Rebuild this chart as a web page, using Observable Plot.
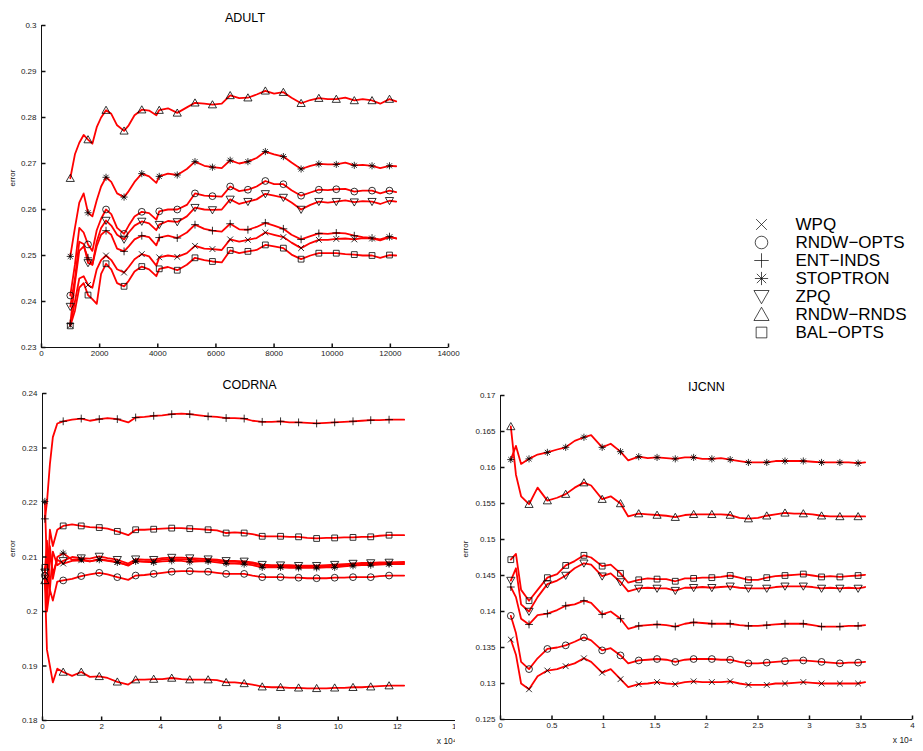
<!DOCTYPE html>
<html><head><meta charset="utf-8">
<script src="https://cdn.jsdelivr.net/npm/d3@7"></script>
<script src="https://cdn.jsdelivr.net/npm/@observablehq/plot@0.6"></script>
<style>
body{margin:0;background:#fff;}
#root{position:relative;width:923px;height:751px;overflow:hidden;background:#fff;}
#root svg{position:absolute;}
</style></head><body><div id="root"></div>
<script>
// ---------- series names / legend ----------
const seriesNames = ["WPQ","RNDW-OPTS","ENT-INDS","STOPTRON","ZPQ","RNDW-RNDS","BAL-OPTS"];
const legendLabels = ["WPQ","RNDW\u2212OPTS","ENT\u2212INDS","STOPTRON","ZPQ","RNDW\u2212RNDS","BAL\u2212OPTS"];

// ---------- ADULT ----------
const adultX = [990,1150,1300,1450,1600,1750,1900,2050,2220,2400,2600,2840,3000,3200,3450,3700,3950,4050,4350,4670,5000,5280,5600,5880,6200,6490,6800,7100,7400,7700,8000,8320,8600,8930,9250,9540,9850,10140,10450,10760,11050,11370,11650,11970,12200];
const adultMarkX = [990,1600,2220,2840,3450,4050,4670,5280,5880,6490,7100,7700,8320,8930,9540,10140,10760,11370,11970];
const adultWPQ = [.2348,.2400,.2450,.2455,.2436,.2430,.2470,.2490,.2500,.2490,.2470,.2463,.2475,.2492,.2503,.2498,.2478,.2496,.2500,.2497,.2505,.2521,.2515,.2514,.2512,.2535,.2530,.2534,.2538,.2550,.2545,.2540,.2528,.2516,.2527,.2534,.2534,.2536,.2537,.2535,.2538,.2537,.2533,.2540,.2537];
const adultRNDWOPTS = [.2413,.2480,.2560,.2550,.2524,.2510,.2555,.2580,.2600,.2590,.2560,.2547,.2565,.2585,.2595,.2592,.2578,.2596,.2600,.2600,.2610,.2635,.2630,.2629,.2628,.2650,.2640,.2643,.2650,.2662,.2655,.2655,.2642,.2630,.2637,.2643,.2642,.2644,.2645,.2639,.2641,.2641,.2635,.2641,.2638];
const adultENTINDS = [.2352,.2440,.2510,.2520,.2495,.2480,.2520,.2545,.2554,.2545,.2515,.2509,.2520,.2535,.2543,.2540,.2522,.2539,.2543,.2538,.2550,.2567,.2558,.2554,.2552,.2569,.2557,.2556,.2562,.2571,.2565,.2558,.2545,.2535,.2542,.2548,.2547,.2549,.2548,.2543,.2540,.2538,.2535,.2541,.2537];
const adultSTOPTRON = [.2498,.2560,.2615,.2635,.2593,.2585,.2620,.2650,.2670,.2660,.2635,.2627,.2640,.2660,.2678,.2672,.2658,.2672,.2678,.2675,.2688,.2704,.2695,.2692,.2690,.2707,.2700,.2704,.2712,.2726,.2720,.2715,.2702,.2688,.2695,.2699,.2698,.2698,.2702,.2696,.2697,.2695,.2690,.2695,.2694];
const adultZPQ = [.2389,.2450,.2530,.2525,.2484,.2480,.2530,.2560,.2576,.2565,.2545,.2535,.2550,.2565,.2574,.2570,.2555,.2567,.2575,.2573,.2585,.2604,.2600,.2599,.2600,.2622,.2612,.2617,.2622,.2634,.2630,.2626,.2615,.2600,.2610,.2617,.2615,.2617,.2620,.2616,.2618,.2617,.2612,.2619,.2617];
const adultRNDWRNDS = [.2668,.2720,.2745,.2762,.2752,.2743,.2779,.2800,.2816,.2808,.2783,.2771,.2783,.2805,.2817,.2815,.2805,.2816,.2820,.2810,.2822,.2832,.2830,.2828,.2830,.2848,.2842,.2843,.2850,.2858,.2852,.2855,.2843,.2831,.2838,.2842,.2840,.2840,.2843,.2837,.2840,.2837,.2830,.2840,.2835];
const adultBALOPTS = [.2347,.2380,.2430,.2440,.2414,.2405,.2395,.2460,.2482,.2470,.2440,.2433,.2445,.2465,.2476,.2470,.2455,.2471,.2475,.2468,.2480,.2495,.2490,.2487,.2485,.2511,.2505,.2509,.2512,.2523,.2520,.2516,.2502,.2492,.2500,.2505,.2505,.2505,.2503,.2502,.2500,.2500,.2495,.2501,.2500];
const adultXTicks = [0,2000,4000,6000,8000,10000,12000,14000];
const adultYTicks = [0.23,0.24,0.25,0.26,0.27,0.28,0.29,0.3];

// ---------- CODRNA (x in units of 10^4) ----------
const codX = [0.08,0.15,0.25,0.35,0.5,0.7,1.0,1.31,1.6,1.92,2.2,2.53,2.9,3.15,3.45,3.76,4.05,4.37,4.7,4.98,5.3,5.6,5.9,6.21,6.5,6.82,7.1,7.43,7.75,8.05,8.35,8.66,8.95,9.27,9.6,9.88,10.2,10.5,10.8,11.1,11.4,11.72,12.23];
const codMarkX = [0.08,0.7,1.31,1.92,2.53,3.15,3.76,4.37,4.98,5.6,6.21,6.82,7.43,8.05,8.66,9.27,9.88,10.5,11.1,11.72];
const codWPQ = [.2063,.2010,.2110,.2070,.2095,.2088,.2093,.2094,.2092,.2096,.2094,.2091,.2084,.2093,.2092,.2092,.2095,.2096,.2096,.2095,.2094,.2094,.2093,.2091,.2091,.2090,.2088,.2084,.2083,.2083,.2083,.2082,.2082,.2082,.2083,.2084,.2085,.2086,.2087,.2087,.2088,.2088,.2089];
const codRNDWOPTS = [.2066,.2000,.2040,.2020,.2055,.2057,.2060,.2065,.2068,.2071,.2068,.2063,.2058,.2066,.2067,.2069,.2071,.2073,.2074,.2074,.2073,.2073,.2071,.2069,.2069,.2069,.2066,.2063,.2063,.2063,.2062,.2062,.2061,.2061,.2061,.2062,.2062,.2063,.2063,.2063,.2065,.2066,.2066];
const codENTINDS = [.2170,.2200,.2270,.2320,.2345,.2349,.2352,.2354,.2350,.2353,.2355,.2353,.2347,.2356,.2357,.2359,.2360,.2362,.2363,.2362,.2360,.2358,.2357,.2355,.2355,.2354,.2350,.2348,.2348,.2349,.2347,.2347,.2346,.2345,.2346,.2347,.2348,.2349,.2350,.2351,.2351,.2352,.2352];
const codSTOPTRON = [.2202,.2080,.2120,.2060,.2100,.2107,.2095,.2096,.2092,.2095,.2093,.2090,.2085,.2092,.2091,.2090,.2092,.2093,.2093,.2091,.2092,.2092,.2090,.2088,.2088,.2087,.2085,.2081,.2081,.2081,.2080,.2080,.2080,.2080,.2081,.2081,.2083,.2084,.2085,.2085,.2086,.2087,.2087];
const codZPQ = [.2072,.2130,.2040,.2110,.2085,.2093,.2100,.2098,.2097,.2101,.2098,.2095,.2088,.2096,.2095,.2095,.2098,.2099,.2099,.2098,.2097,.2096,.2095,.2093,.2093,.2092,.2090,.2086,.2085,.2085,.2085,.2084,.2084,.2084,.2085,.2086,.2087,.2088,.2089,.2089,.2090,.2090,.2091];
const codRNDWRNDS = [.2057,.1930,.1900,.1870,.1895,.1889,.1882,.1889,.1880,.1881,.1878,.1871,.1866,.1875,.1875,.1876,.1876,.1878,.1876,.1875,.1875,.1875,.1874,.1870,.1870,.1868,.1866,.1862,.1861,.1861,.1860,.1860,.1859,.1859,.1859,.1860,.1860,.1861,.1861,.1862,.1863,.1864,.1864];
const codBALOPTS = [.2081,.2030,.2150,.2120,.2150,.2157,.2160,.2157,.2155,.2154,.2152,.2147,.2140,.2150,.2150,.2151,.2152,.2153,.2153,.2152,.2151,.2150,.2149,.2144,.2145,.2144,.2142,.2138,.2138,.2138,.2137,.2137,.2135,.2134,.2135,.2135,.2136,.2136,.2137,.2137,.2139,.2140,.2140];
const codXTicks = [0,2,4,6,8,10,12,14];
const codYTicks = [0.18,0.19,0.2,0.21,0.22,0.23,0.24];

// ---------- IJCNN (x in units of 10^4) ----------
const ijX = [0.1,0.15,0.2,0.277,0.36,0.455,0.55,0.633,0.72,0.81,0.88,0.987,1.07,1.165,1.24,1.342,1.43,1.52,1.61,1.697,1.79,1.875,1.96,2.052,2.14,2.23,2.32,2.407,2.5,2.585,2.67,2.762,2.85,2.94,3.03,3.117,3.2,3.295,3.38,3.472,3.54];
const ijMarkX = [0.1,0.277,0.455,0.633,0.81,0.987,1.165,1.342,1.52,1.697,1.875,2.052,2.23,2.407,2.585,2.762,2.94,3.117,3.295,3.472];
const ijWPQ = [.1361,.1340,.1300,.1292,.1310,.1318,.1320,.1324,.1328,.1335,.1330,.1315,.1320,.1306,.1295,.1299,.1300,.1302,.1300,.1299,.1302,.1303,.1302,.1302,.1302,.1303,.1300,.1298,.1298,.1298,.1300,.1300,.1301,.1302,.1301,.1300,.1300,.1300,.1300,.1300,.1302];
const ijRNDWOPTS = [.1394,.1370,.1330,.1320,.1335,.1348,.1350,.1353,.1358,.1364,.1360,.1346,.1349,.1339,.1328,.1332,.1333,.1334,.1333,.1330,.1333,.1334,.1334,.1334,.1333,.1333,.1330,.1328,.1328,.1329,.1330,.1331,.1332,.1332,.1331,.1330,.1329,.1328,.1329,.1329,.1330];
const ijENTINDS = [.1434,.1420,.1390,.1382,.1395,.1397,.1402,.1408,.1410,.1415,.1412,.1396,.1400,.1390,.1376,.1380,.1381,.1382,.1381,.1379,.1383,.1385,.1384,.1383,.1383,.1383,.1381,.1380,.1380,.1381,.1382,.1383,.1383,.1383,.1381,.1379,.1379,.1379,.1380,.1380,.1381];
const ijSTOPTRON = [.1611,.1630,.1605,.1612,.1618,.1621,.1625,.1628,.1637,.1642,.1645,.1628,.1633,.1622,.1610,.1615,.1613,.1614,.1613,.1612,.1614,.1614,.1612,.1612,.1613,.1611,.1609,.1607,.1607,.1607,.1609,.1609,.1609,.1609,.1608,.1607,.1607,.1607,.1607,.1606,.1607];
const ijZPQ = [.1443,.1460,.1410,.1400,.1420,.1438,.1443,.1450,.1460,.1467,.1465,.1449,.1453,.1441,.1428,.1432,.1433,.1432,.1432,.1429,.1433,.1433,.1434,.1433,.1434,.1435,.1433,.1432,.1432,.1432,.1434,.1435,.1435,.1435,.1434,.1432,.1433,.1432,.1433,.1432,.1434];
const ijRNDWRNDS = [.1657,.1590,.1560,.1549,.1572,.1554,.1558,.1563,.1572,.1579,.1575,.1556,.1560,.1550,.1532,.1536,.1535,.1534,.1533,.1531,.1534,.1535,.1535,.1535,.1535,.1534,.1530,.1529,.1530,.1533,.1535,.1537,.1536,.1536,.1535,.1533,.1532,.1532,.1532,.1532,.1532];
const ijBALOPTS = [.1472,.1480,.1430,.1415,.1430,.1447,.1452,.1464,.1470,.1478,.1475,.1463,.1465,.1453,.1440,.1444,.1446,.1445,.1445,.1442,.1446,.1446,.1447,.1447,.1448,.1450,.1447,.1444,.1444,.1447,.1449,.1450,.1451,.1452,.1450,.1448,.1449,.1448,.1449,.1450,.1451];
const ijXTicks = [0,0.5,1,1.5,2,2.5,3,3.5,4];
const ijYTicks = [0.125,0.13,0.135,0.14,0.145,0.15,0.155,0.16,0.165,0.17];

// ---------- marker symbols (MATLAB-like) ----------
function sym(f){return {draw(c,size){f(c,Math.sqrt(size/Math.PI));}};}
const symTimes = sym((c,r)=>{const a=0.85*r;c.moveTo(-a,-a);c.lineTo(a,a);c.moveTo(-a,a);c.lineTo(a,-a);});
const symCircle = sym((c,r)=>{c.moveTo(r,0);c.arc(0,0,r,0,2*Math.PI);});
const symPlus = sym((c,r)=>{const a=1.15*r;c.moveTo(-a,0);c.lineTo(a,0);c.moveTo(0,-a);c.lineTo(0,a);});
const symStar = sym((c,r)=>{const a=1.05*r,b=0.74*r;c.moveTo(-a,0);c.lineTo(a,0);c.moveTo(0,-a);c.lineTo(0,a);c.moveTo(-b,-b);c.lineTo(b,b);c.moveTo(-b,b);c.lineTo(b,-b);});
const symTriDown = sym((c,r)=>{const w=1.2*r;c.moveTo(-w,-0.95*r);c.lineTo(w,-0.95*r);c.lineTo(0,1.15*r);c.closePath();});
const symTriUp = sym((c,r)=>{const w=1.2*r;c.moveTo(-w,0.95*r);c.lineTo(w,0.95*r);c.lineTo(0,-1.15*r);c.closePath();});
const symSquare = sym((c,r)=>{const a=0.85*r;c.moveTo(-a,-a);c.lineTo(a,-a);c.lineTo(a,a);c.lineTo(-a,a);c.closePath();});
const SYMBOLS = [symTimes,symCircle,symPlus,symStar,symTriDown,symTriUp,symSquare];
const tickUp = {draw(c){c.moveTo(0,0);c.lineTo(0,-4);}};
const tickRight = {draw(c){c.moveTo(0,0);c.lineTo(4,0);}};

const FONT = '"Liberation Sans", Arial, Helvetica, sans-serif';
const fmt = d => String(+(+d).toFixed(4));
const root = document.getElementById("root");

function panel(cfg){
  const rows = [];
  cfg.series.forEach((vals,i)=>vals.forEach((v,j)=>rows.push({x:cfg.lineX[j], y:v, s:seriesNames[i]})));
  const dots = cfg.series.map((vals,i)=>Plot.dot(
    cfg.markX.map(mx=>({x:mx, y:vals[cfg.lineX.indexOf(mx)]})),
    {x:"x", y:"y", symbol:SYMBOLS[i], r:3.4, stroke:"black", fill:"none", strokeWidth:0.8}));
  const marks = [
    Plot.line(rows, {x:"x", y:"y", z:"s", stroke:"#ff0000", strokeWidth:1.8}),
    ...dots,
    Plot.ruleX([cfg.xDomain[0]], {stroke:"#111", strokeWidth:1}),
    Plot.ruleY([cfg.yDomain[0]], {stroke:"#111", strokeWidth:1}),
    Plot.dot(cfg.xTicks, {x:d=>d, frameAnchor:"bottom", symbol:tickUp, r:1, stroke:"#111", fill:"none"}),
    Plot.dot(cfg.yTicks, {y:d=>d, frameAnchor:"left", symbol:tickRight, r:1, stroke:"#111", fill:"none"}),
    Plot.text([cfg.title], {text:d=>d, frameAnchor:"top", dy:cfg.titleDy, fontSize:12.5, fill:"black"}),
    Plot.text(["error"], {text:d=>d, frameAnchor:"left", dx:cfg.labelDx, rotate:-90, fontSize:8, fill:"#222"})
  ];
  if (cfg.exp) marks.push(Plot.text(["x 10\u2074"], {text:d=>d, frameAnchor:"bottom-right", dy:23, dx:0, textAnchor:"end", fontSize:8.5, fill:"#222"}));
  const svg = Plot.plot({
    width:cfg.width, height:cfg.height,
    marginLeft:cfg.ml, marginRight:cfg.mr, marginTop:cfg.mt, marginBottom:cfg.mb,
    style:{fontFamily:FONT, fontSize:"8px", color:"#222", background:"white"},
    x:{domain:cfg.xDomain, ticks:cfg.xTicks, tickSize:0, tickPadding:3, tickFormat:fmt, label:null},
    y:{domain:cfg.yDomain, ticks:cfg.yTicks, tickSize:0, tickPadding:5, tickFormat:fmt, label:null},
    marks
  });
  svg.style.left = cfg.left + "px";
  svg.style.top = cfg.top + "px";
  root.appendChild(svg);
}

panel({title:"ADULT", left:0, top:0, width:465, height:365, ml:41, mr:17, mt:25, mb:18, titleDy:-12, labelDx:-29,
  xDomain:[0,14000], yDomain:[0.23,0.3], xTicks:adultXTicks, yTicks:adultYTicks,
  lineX:adultX, markX:adultMarkX,
  series:[adultWPQ,adultRNDWOPTS,adultENTINDS,adultSTOPTRON,adultZPQ,adultRNDWRNDS,adultBALOPTS]});

panel({title:"CODRNA", left:0, top:370, width:470, height:381, ml:42, mr:14, mt:23, mb:31, titleDy:-13, labelDx:-30, exp:true,
  xDomain:[0,14], yDomain:[0.18,0.24], xTicks:codXTicks, yTicks:codYTicks,
  lineX:codX, markX:codMarkX,
  series:[codWPQ,codRNDWOPTS,codENTINDS,codSTOPTRON,codZPQ,codRNDWRNDS,codBALOPTS]});

panel({title:"IJCNN", left:455, top:370, width:468, height:381, ml:45, mr:11, mt:25, mb:32, titleDy:-13, labelDx:-35, exp:true,
  xDomain:[0,4], yDomain:[0.125,0.17], xTicks:ijXTicks, yTicks:ijYTicks,
  lineX:ijX, markX:ijMarkX,
  series:[ijWPQ,ijRNDWOPTS,ijENTINDS,ijSTOPTRON,ijZPQ,ijRNDWRNDS,ijBALOPTS]});

// ---------- legend ----------
const legend = Plot.plot({
  width:183, height:165, margin:0,
  style:{fontFamily:FONT, background:"transparent"},
  y:{type:"point", domain:seriesNames, range:[18,148], axis:null},
  marks:[
    ...seriesNames.map((n,i)=>Plot.dot([n], {y:d=>d, frameAnchor:"left", dx:21, symbol:SYMBOLS[i], r:6.3, stroke:"black", fill:"none", strokeWidth:0.7})),
    Plot.text(legendLabels, {y:(d,i)=>seriesNames[i], text:d=>d, frameAnchor:"left", dx:55, textAnchor:"start", fontSize:17, fill:"black"})
  ]
});
legend.style.left = "740px";
legend.style.top = "195px";
root.appendChild(legend);
</script>
</body></html>
